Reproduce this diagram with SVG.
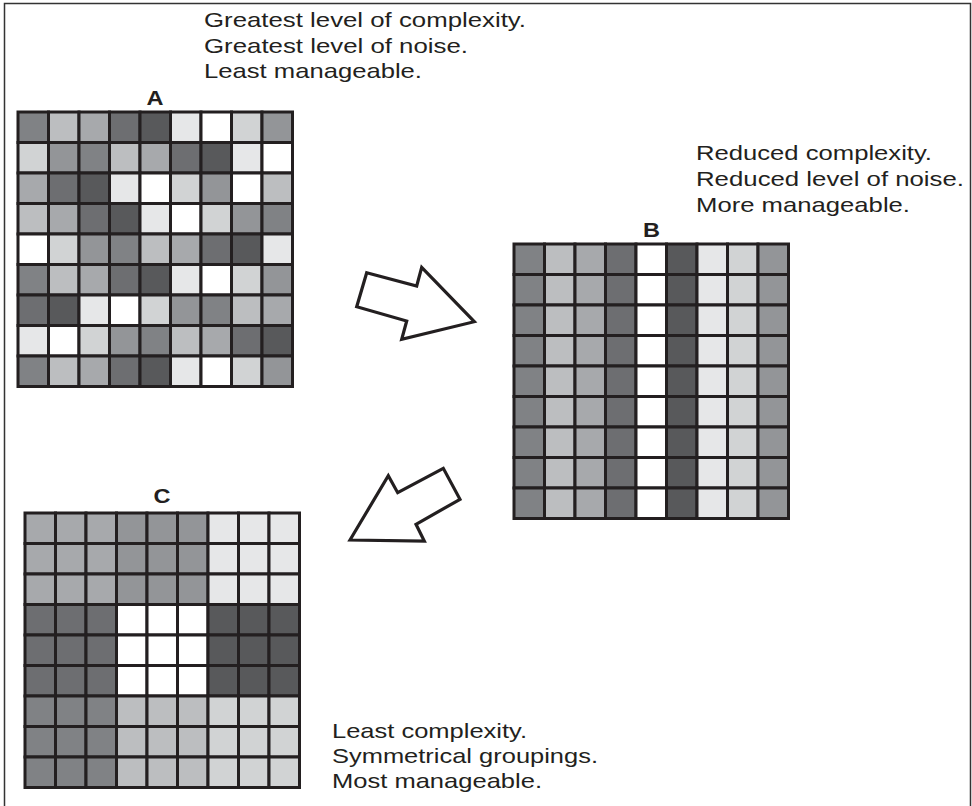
<svg xmlns="http://www.w3.org/2000/svg" width="972" height="806" viewBox="0 0 972 806">
<style>
.t{font-family:"Liberation Sans",Arial,Helvetica,sans-serif;font-size:21px;fill:#231f20}
.lbl{font-family:"Liberation Sans",Arial,Helvetica,sans-serif;font-size:20px;font-weight:bold;fill:#231f20;text-anchor:middle}
.grid rect{stroke:#231f20;stroke-width:3}
.a{fill:#808285}.b{fill:#bcbec0}.c{fill:#a7a9ac}.d{fill:#6d6e71}.e{fill:#58595b}.f{fill:#e6e7e8}.w{fill:#ffffff}.g{fill:#d1d3d4}.h{fill:#939598}
.arrow{fill:#ffffff;stroke:#231f20;stroke-width:3.2;stroke-linejoin:miter}
</style>
<rect width="972" height="806" fill="#ffffff"/>
<path d="M4.5 806V3.5H970.5V806" fill="none" stroke="#333333" stroke-width="1.5"/>

<g id="nodeA">
<text class="t" x="204" y="27" textLength="322" lengthAdjust="spacingAndGlyphs">Greatest level of complexity.</text>
<text class="t" x="204" y="52.5" textLength="264" lengthAdjust="spacingAndGlyphs">Greatest level of noise.</text>
<text class="t" x="204" y="78" textLength="218" lengthAdjust="spacingAndGlyphs">Least manageable.</text>
<text class="lbl" x="155" y="104.5" textLength="17" lengthAdjust="spacingAndGlyphs">A</text>
<g class="grid" transform="translate(18,112)">
<rect x="0" y="0" width="30.5" height="30.5" class="a"/><rect x="30.5" y="0" width="30.5" height="30.5" class="b"/><rect x="61" y="0" width="30.5" height="30.5" class="c"/><rect x="91.5" y="0" width="30.5" height="30.5" class="d"/><rect x="122" y="0" width="30.5" height="30.5" class="e"/><rect x="152.5" y="0" width="30.5" height="30.5" class="f"/><rect x="183" y="0" width="30.5" height="30.5" class="w"/><rect x="213.5" y="0" width="30.5" height="30.5" class="g"/><rect x="244" y="0" width="30.5" height="30.5" class="h"/>
<rect x="0" y="30.5" width="30.5" height="30.5" class="g"/><rect x="30.5" y="30.5" width="30.5" height="30.5" class="h"/><rect x="61" y="30.5" width="30.5" height="30.5" class="a"/><rect x="91.5" y="30.5" width="30.5" height="30.5" class="b"/><rect x="122" y="30.5" width="30.5" height="30.5" class="c"/><rect x="152.5" y="30.5" width="30.5" height="30.5" class="d"/><rect x="183" y="30.5" width="30.5" height="30.5" class="e"/><rect x="213.5" y="30.5" width="30.5" height="30.5" class="f"/><rect x="244" y="30.5" width="30.5" height="30.5" class="w"/>
<rect x="0" y="61" width="30.5" height="30.5" class="c"/><rect x="30.5" y="61" width="30.5" height="30.5" class="d"/><rect x="61" y="61" width="30.5" height="30.5" class="e"/><rect x="91.5" y="61" width="30.5" height="30.5" class="f"/><rect x="122" y="61" width="30.5" height="30.5" class="w"/><rect x="152.5" y="61" width="30.5" height="30.5" class="g"/><rect x="183" y="61" width="30.5" height="30.5" class="h"/><rect x="213.5" y="61" width="30.5" height="30.5" class="w"/><rect x="244" y="61" width="30.5" height="30.5" class="b"/>
<rect x="0" y="91.5" width="30.5" height="30.5" class="b"/><rect x="30.5" y="91.5" width="30.5" height="30.5" class="c"/><rect x="61" y="91.5" width="30.5" height="30.5" class="d"/><rect x="91.5" y="91.5" width="30.5" height="30.5" class="e"/><rect x="122" y="91.5" width="30.5" height="30.5" class="f"/><rect x="152.5" y="91.5" width="30.5" height="30.5" class="w"/><rect x="183" y="91.5" width="30.5" height="30.5" class="g"/><rect x="213.5" y="91.5" width="30.5" height="30.5" class="h"/><rect x="244" y="91.5" width="30.5" height="30.5" class="a"/>
<rect x="0" y="122" width="30.5" height="30.5" class="w"/><rect x="30.5" y="122" width="30.5" height="30.5" class="g"/><rect x="61" y="122" width="30.5" height="30.5" class="h"/><rect x="91.5" y="122" width="30.5" height="30.5" class="a"/><rect x="122" y="122" width="30.5" height="30.5" class="b"/><rect x="152.5" y="122" width="30.5" height="30.5" class="c"/><rect x="183" y="122" width="30.5" height="30.5" class="d"/><rect x="213.5" y="122" width="30.5" height="30.5" class="e"/><rect x="244" y="122" width="30.5" height="30.5" class="f"/>
<rect x="0" y="152.5" width="30.5" height="30.5" class="a"/><rect x="30.5" y="152.5" width="30.5" height="30.5" class="b"/><rect x="61" y="152.5" width="30.5" height="30.5" class="c"/><rect x="91.5" y="152.5" width="30.5" height="30.5" class="d"/><rect x="122" y="152.5" width="30.5" height="30.5" class="e"/><rect x="152.5" y="152.5" width="30.5" height="30.5" class="f"/><rect x="183" y="152.5" width="30.5" height="30.5" class="w"/><rect x="213.5" y="152.5" width="30.5" height="30.5" class="g"/><rect x="244" y="152.5" width="30.5" height="30.5" class="h"/>
<rect x="0" y="183" width="30.5" height="30.5" class="d"/><rect x="30.5" y="183" width="30.5" height="30.5" class="e"/><rect x="61" y="183" width="30.5" height="30.5" class="f"/><rect x="91.5" y="183" width="30.5" height="30.5" class="w"/><rect x="122" y="183" width="30.5" height="30.5" class="g"/><rect x="152.5" y="183" width="30.5" height="30.5" class="h"/><rect x="183" y="183" width="30.5" height="30.5" class="a"/><rect x="213.5" y="183" width="30.5" height="30.5" class="b"/><rect x="244" y="183" width="30.5" height="30.5" class="c"/>
<rect x="0" y="213.5" width="30.5" height="30.5" class="f"/><rect x="30.5" y="213.5" width="30.5" height="30.5" class="w"/><rect x="61" y="213.5" width="30.5" height="30.5" class="g"/><rect x="91.5" y="213.5" width="30.5" height="30.5" class="h"/><rect x="122" y="213.5" width="30.5" height="30.5" class="a"/><rect x="152.5" y="213.5" width="30.5" height="30.5" class="b"/><rect x="183" y="213.5" width="30.5" height="30.5" class="c"/><rect x="213.5" y="213.5" width="30.5" height="30.5" class="d"/><rect x="244" y="213.5" width="30.5" height="30.5" class="e"/>
<rect x="0" y="244" width="30.5" height="30.5" class="a"/><rect x="30.5" y="244" width="30.5" height="30.5" class="b"/><rect x="61" y="244" width="30.5" height="30.5" class="c"/><rect x="91.5" y="244" width="30.5" height="30.5" class="d"/><rect x="122" y="244" width="30.5" height="30.5" class="e"/><rect x="152.5" y="244" width="30.5" height="30.5" class="f"/><rect x="183" y="244" width="30.5" height="30.5" class="w"/><rect x="213.5" y="244" width="30.5" height="30.5" class="g"/><rect x="244" y="244" width="30.5" height="30.5" class="h"/>
</g>
</g>

<g id="nodeB">
<text class="t" x="696" y="160" textLength="236" lengthAdjust="spacingAndGlyphs">Reduced complexity.</text>
<text class="t" x="696" y="186" textLength="268" lengthAdjust="spacingAndGlyphs">Reduced level of noise.</text>
<text class="t" x="696" y="212" textLength="214" lengthAdjust="spacingAndGlyphs">More manageable.</text>
<text class="lbl" x="651.5" y="236.5" textLength="17" lengthAdjust="spacingAndGlyphs">B</text>
<g class="grid" transform="translate(514,244)">
<rect x="0" y="0" width="30.5" height="30.5" class="a"/><rect x="30.5" y="0" width="30.5" height="30.5" class="b"/><rect x="61" y="0" width="30.5" height="30.5" class="c"/><rect x="91.5" y="0" width="30.5" height="30.5" class="d"/><rect x="122" y="0" width="30.5" height="30.5" class="w"/><rect x="152.5" y="0" width="30.5" height="30.5" class="e"/><rect x="183" y="0" width="30.5" height="30.5" class="f"/><rect x="213.5" y="0" width="30.5" height="30.5" class="g"/><rect x="244" y="0" width="30.5" height="30.5" class="h"/>
<rect x="0" y="30.5" width="30.5" height="30.5" class="a"/><rect x="30.5" y="30.5" width="30.5" height="30.5" class="b"/><rect x="61" y="30.5" width="30.5" height="30.5" class="c"/><rect x="91.5" y="30.5" width="30.5" height="30.5" class="d"/><rect x="122" y="30.5" width="30.5" height="30.5" class="w"/><rect x="152.5" y="30.5" width="30.5" height="30.5" class="e"/><rect x="183" y="30.5" width="30.5" height="30.5" class="f"/><rect x="213.5" y="30.5" width="30.5" height="30.5" class="g"/><rect x="244" y="30.5" width="30.5" height="30.5" class="h"/>
<rect x="0" y="61" width="30.5" height="30.5" class="a"/><rect x="30.5" y="61" width="30.5" height="30.5" class="b"/><rect x="61" y="61" width="30.5" height="30.5" class="c"/><rect x="91.5" y="61" width="30.5" height="30.5" class="d"/><rect x="122" y="61" width="30.5" height="30.5" class="w"/><rect x="152.5" y="61" width="30.5" height="30.5" class="e"/><rect x="183" y="61" width="30.5" height="30.5" class="f"/><rect x="213.5" y="61" width="30.5" height="30.5" class="g"/><rect x="244" y="61" width="30.5" height="30.5" class="h"/>
<rect x="0" y="91.5" width="30.5" height="30.5" class="a"/><rect x="30.5" y="91.5" width="30.5" height="30.5" class="b"/><rect x="61" y="91.5" width="30.5" height="30.5" class="c"/><rect x="91.5" y="91.5" width="30.5" height="30.5" class="d"/><rect x="122" y="91.5" width="30.5" height="30.5" class="w"/><rect x="152.5" y="91.5" width="30.5" height="30.5" class="e"/><rect x="183" y="91.5" width="30.5" height="30.5" class="f"/><rect x="213.5" y="91.5" width="30.5" height="30.5" class="g"/><rect x="244" y="91.5" width="30.5" height="30.5" class="h"/>
<rect x="0" y="122" width="30.5" height="30.5" class="a"/><rect x="30.5" y="122" width="30.5" height="30.5" class="b"/><rect x="61" y="122" width="30.5" height="30.5" class="c"/><rect x="91.5" y="122" width="30.5" height="30.5" class="d"/><rect x="122" y="122" width="30.5" height="30.5" class="w"/><rect x="152.5" y="122" width="30.5" height="30.5" class="e"/><rect x="183" y="122" width="30.5" height="30.5" class="f"/><rect x="213.5" y="122" width="30.5" height="30.5" class="g"/><rect x="244" y="122" width="30.5" height="30.5" class="h"/>
<rect x="0" y="152.5" width="30.5" height="30.5" class="a"/><rect x="30.5" y="152.5" width="30.5" height="30.5" class="b"/><rect x="61" y="152.5" width="30.5" height="30.5" class="c"/><rect x="91.5" y="152.5" width="30.5" height="30.5" class="d"/><rect x="122" y="152.5" width="30.5" height="30.5" class="w"/><rect x="152.5" y="152.5" width="30.5" height="30.5" class="e"/><rect x="183" y="152.5" width="30.5" height="30.5" class="f"/><rect x="213.5" y="152.5" width="30.5" height="30.5" class="g"/><rect x="244" y="152.5" width="30.5" height="30.5" class="h"/>
<rect x="0" y="183" width="30.5" height="30.5" class="a"/><rect x="30.5" y="183" width="30.5" height="30.5" class="b"/><rect x="61" y="183" width="30.5" height="30.5" class="c"/><rect x="91.5" y="183" width="30.5" height="30.5" class="d"/><rect x="122" y="183" width="30.5" height="30.5" class="w"/><rect x="152.5" y="183" width="30.5" height="30.5" class="e"/><rect x="183" y="183" width="30.5" height="30.5" class="f"/><rect x="213.5" y="183" width="30.5" height="30.5" class="g"/><rect x="244" y="183" width="30.5" height="30.5" class="h"/>
<rect x="0" y="213.5" width="30.5" height="30.5" class="a"/><rect x="30.5" y="213.5" width="30.5" height="30.5" class="b"/><rect x="61" y="213.5" width="30.5" height="30.5" class="c"/><rect x="91.5" y="213.5" width="30.5" height="30.5" class="d"/><rect x="122" y="213.5" width="30.5" height="30.5" class="w"/><rect x="152.5" y="213.5" width="30.5" height="30.5" class="e"/><rect x="183" y="213.5" width="30.5" height="30.5" class="f"/><rect x="213.5" y="213.5" width="30.5" height="30.5" class="g"/><rect x="244" y="213.5" width="30.5" height="30.5" class="h"/>
<rect x="0" y="244" width="30.5" height="30.5" class="a"/><rect x="30.5" y="244" width="30.5" height="30.5" class="b"/><rect x="61" y="244" width="30.5" height="30.5" class="c"/><rect x="91.5" y="244" width="30.5" height="30.5" class="d"/><rect x="122" y="244" width="30.5" height="30.5" class="w"/><rect x="152.5" y="244" width="30.5" height="30.5" class="e"/><rect x="183" y="244" width="30.5" height="30.5" class="f"/><rect x="213.5" y="244" width="30.5" height="30.5" class="g"/><rect x="244" y="244" width="30.5" height="30.5" class="h"/>
</g>
</g>

<g id="nodeC">
<text class="lbl" x="162" y="503" textLength="17" lengthAdjust="spacingAndGlyphs">C</text>
<text class="t" x="332" y="738" textLength="195" lengthAdjust="spacingAndGlyphs">Least complexity.</text>
<text class="t" x="332" y="763" textLength="266" lengthAdjust="spacingAndGlyphs">Symmetrical groupings.</text>
<text class="t" x="332" y="787.5" textLength="210" lengthAdjust="spacingAndGlyphs">Most manageable.</text>
<g class="grid" transform="translate(25,513)">
<rect x="0" y="0" width="30.5" height="30.5" class="c"/><rect x="30.5" y="0" width="30.5" height="30.5" class="c"/><rect x="61" y="0" width="30.5" height="30.5" class="c"/><rect x="91.5" y="0" width="30.5" height="30.5" class="h"/><rect x="122" y="0" width="30.5" height="30.5" class="h"/><rect x="152.5" y="0" width="30.5" height="30.5" class="h"/><rect x="183" y="0" width="30.5" height="30.5" class="f"/><rect x="213.5" y="0" width="30.5" height="30.5" class="f"/><rect x="244" y="0" width="30.5" height="30.5" class="f"/>
<rect x="0" y="30.5" width="30.5" height="30.5" class="c"/><rect x="30.5" y="30.5" width="30.5" height="30.5" class="c"/><rect x="61" y="30.5" width="30.5" height="30.5" class="c"/><rect x="91.5" y="30.5" width="30.5" height="30.5" class="h"/><rect x="122" y="30.5" width="30.5" height="30.5" class="h"/><rect x="152.5" y="30.5" width="30.5" height="30.5" class="h"/><rect x="183" y="30.5" width="30.5" height="30.5" class="f"/><rect x="213.5" y="30.5" width="30.5" height="30.5" class="f"/><rect x="244" y="30.5" width="30.5" height="30.5" class="f"/>
<rect x="0" y="61" width="30.5" height="30.5" class="c"/><rect x="30.5" y="61" width="30.5" height="30.5" class="c"/><rect x="61" y="61" width="30.5" height="30.5" class="c"/><rect x="91.5" y="61" width="30.5" height="30.5" class="h"/><rect x="122" y="61" width="30.5" height="30.5" class="h"/><rect x="152.5" y="61" width="30.5" height="30.5" class="h"/><rect x="183" y="61" width="30.5" height="30.5" class="f"/><rect x="213.5" y="61" width="30.5" height="30.5" class="f"/><rect x="244" y="61" width="30.5" height="30.5" class="f"/>
<rect x="0" y="91.5" width="30.5" height="30.5" class="d"/><rect x="30.5" y="91.5" width="30.5" height="30.5" class="d"/><rect x="61" y="91.5" width="30.5" height="30.5" class="d"/><rect x="91.5" y="91.5" width="30.5" height="30.5" class="w"/><rect x="122" y="91.5" width="30.5" height="30.5" class="w"/><rect x="152.5" y="91.5" width="30.5" height="30.5" class="w"/><rect x="183" y="91.5" width="30.5" height="30.5" class="e"/><rect x="213.5" y="91.5" width="30.5" height="30.5" class="e"/><rect x="244" y="91.5" width="30.5" height="30.5" class="e"/>
<rect x="0" y="122" width="30.5" height="30.5" class="d"/><rect x="30.5" y="122" width="30.5" height="30.5" class="d"/><rect x="61" y="122" width="30.5" height="30.5" class="d"/><rect x="91.5" y="122" width="30.5" height="30.5" class="w"/><rect x="122" y="122" width="30.5" height="30.5" class="w"/><rect x="152.5" y="122" width="30.5" height="30.5" class="w"/><rect x="183" y="122" width="30.5" height="30.5" class="e"/><rect x="213.5" y="122" width="30.5" height="30.5" class="e"/><rect x="244" y="122" width="30.5" height="30.5" class="e"/>
<rect x="0" y="152.5" width="30.5" height="30.5" class="d"/><rect x="30.5" y="152.5" width="30.5" height="30.5" class="d"/><rect x="61" y="152.5" width="30.5" height="30.5" class="d"/><rect x="91.5" y="152.5" width="30.5" height="30.5" class="w"/><rect x="122" y="152.5" width="30.5" height="30.5" class="w"/><rect x="152.5" y="152.5" width="30.5" height="30.5" class="w"/><rect x="183" y="152.5" width="30.5" height="30.5" class="e"/><rect x="213.5" y="152.5" width="30.5" height="30.5" class="e"/><rect x="244" y="152.5" width="30.5" height="30.5" class="e"/>
<rect x="0" y="183" width="30.5" height="30.5" class="a"/><rect x="30.5" y="183" width="30.5" height="30.5" class="a"/><rect x="61" y="183" width="30.5" height="30.5" class="a"/><rect x="91.5" y="183" width="30.5" height="30.5" class="b"/><rect x="122" y="183" width="30.5" height="30.5" class="b"/><rect x="152.5" y="183" width="30.5" height="30.5" class="b"/><rect x="183" y="183" width="30.5" height="30.5" class="g"/><rect x="213.5" y="183" width="30.5" height="30.5" class="g"/><rect x="244" y="183" width="30.5" height="30.5" class="g"/>
<rect x="0" y="213.5" width="30.5" height="30.5" class="a"/><rect x="30.5" y="213.5" width="30.5" height="30.5" class="a"/><rect x="61" y="213.5" width="30.5" height="30.5" class="a"/><rect x="91.5" y="213.5" width="30.5" height="30.5" class="b"/><rect x="122" y="213.5" width="30.5" height="30.5" class="b"/><rect x="152.5" y="213.5" width="30.5" height="30.5" class="b"/><rect x="183" y="213.5" width="30.5" height="30.5" class="g"/><rect x="213.5" y="213.5" width="30.5" height="30.5" class="g"/><rect x="244" y="213.5" width="30.5" height="30.5" class="g"/>
<rect x="0" y="244" width="30.5" height="30.5" class="a"/><rect x="30.5" y="244" width="30.5" height="30.5" class="a"/><rect x="61" y="244" width="30.5" height="30.5" class="a"/><rect x="91.5" y="244" width="30.5" height="30.5" class="b"/><rect x="122" y="244" width="30.5" height="30.5" class="b"/><rect x="152.5" y="244" width="30.5" height="30.5" class="b"/><rect x="183" y="244" width="30.5" height="30.5" class="g"/><rect x="213.5" y="244" width="30.5" height="30.5" class="g"/><rect x="244" y="244" width="30.5" height="30.5" class="g"/>
</g>
</g>

<g id="connectors">
<polygon class="arrow" points="366.7,272.7 416.7,286 421.7,267.3 474.3,321.7 401.7,339.3 406.7,321 356.7,306.7"/>
<polygon class="arrow" points="350,540 388.3,475.7 397.7,492.7 443.3,468.3 460,499.3 416,524.3 424.3,541"/>
</g>
</svg>
